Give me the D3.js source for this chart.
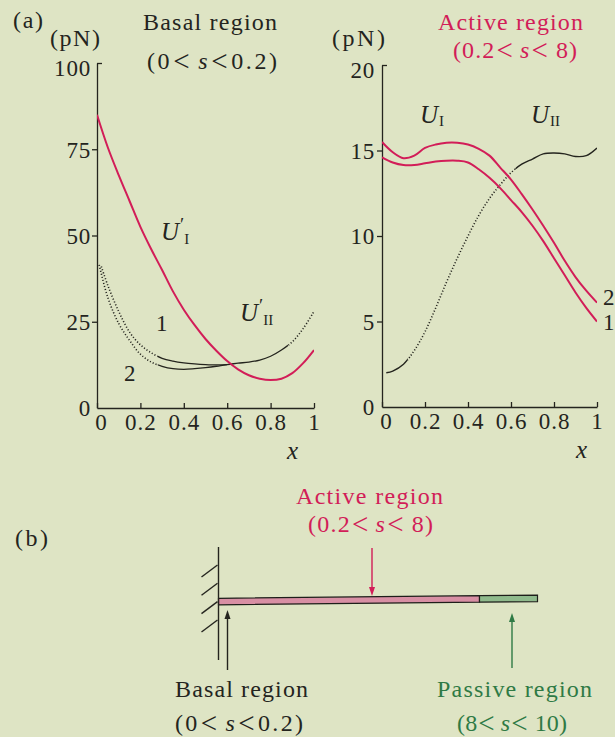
<!DOCTYPE html>
<html>
<head>
<meta charset="utf-8">
<script src="https://cdn.jsdelivr.net/npm/d3@7"></script>
<style>
  html, body { margin: 0; padding: 0; background: #dee4c4; }
  svg { display: block; }
  text { font-family: "Liberation Serif", "Times New Roman", serif; fill: #24241e; }
</style>
</head>
<body>
<svg id="chart" width="615" height="737"></svg>
<script>
// ---- data -------------------------------------------------------------
const xGrid = [0, 0.05, 0.1, 0.15, 0.2, 0.25, 0.3, 0.35, 0.4, 0.45, 0.5,
               0.55, 0.6, 0.65, 0.7, 0.75, 0.8, 0.85, 0.9, 0.95, 1];

// Basal region (0 < s < 0.2), force in pN
const basalUI = [85, 75.5, 67.5, 60, 52.5, 46, 40, 33.8, 28.5, 24, 20,
                 16.6, 13.6, 11.2, 9.5, 8.5, 8.1, 8.5, 10.1, 13, 16.8];
const basalX1 = [0.02, 0.05, 0.1, 0.15, 0.2, 0.25, 0.3, 0.35, 0.4, 0.45, 0.5,
                 0.55, 0.6, 0.65, 0.7, 0.75, 0.8, 0.85, 0.9, 0.95, 1];
const basalUII1 = [41, 35.5, 28, 22, 18.3, 16, 14.4, 13.6, 13.1, 12.8, 12.6,
                   12.5, 12.6, 13, 13.3, 13.9, 15, 16.8, 19.2, 23, 28];
const basalX2 = [0.01, 0.05, 0.1, 0.15, 0.2, 0.25, 0.3, 0.35, 0.4, 0.45, 0.5, 0.55, 0.6];
const basalUII2 = [41.5, 32, 24.5, 19.6, 15.6, 13.3, 12.1, 11.4, 11.2, 11.4, 11.7, 12.1, 12.6];

// Active region (0.2 < s < 8), force in pN
const activeUI1 = [14.6, 14.3, 14.15, 14.15, 14.25, 14.35, 14.4, 14.4, 14.3, 13.9, 13.4,
                   12.8, 12.1, 11.4, 10.6, 9.7, 8.7, 7.7, 6.7, 5.8, 5.0];
const activeUI2 = [15.5, 14.9, 14.55, 14.7, 15.15, 15.35, 15.45, 15.45, 15.35, 15.1, 14.7,
                   14.0, 13.3, 12.45, 11.55, 10.6, 9.6, 8.55, 7.6, 6.8, 6.1];
const activeX = [0.02, 0.05, 0.1, 0.15, 0.2, 0.25, 0.3, 0.35, 0.4, 0.45, 0.5,
                 0.55, 0.6, 0.65, 0.7, 0.75, 0.8, 0.85, 0.9, 0.95, 1];
const activeUII = [2.0, 2.1, 2.5, 3.3, 4.4, 5.8, 7.3, 8.7, 10.0, 11.2, 12.2,
                   13.0, 13.7, 14.2, 14.5, 14.8, 14.85, 14.8, 14.65, 14.7, 15.15];

const xTicks = [0, 0.2, 0.4, 0.6, 0.8, 1];
const xTickLabels = ["0", "0.2", "0.4", "0.6", "0.8", "1"];
const basalYTicks = [0, 25, 50, 75, 100];
const activeYTicks = [0, 5, 10, 15, 20];

// ---- drawing ----------------------------------------------------------
const RED = "#d21d58", INK = "#24241e", GREEN = "#2f7a45";
const svg = d3.select("#chart");
const defs = svg.append("defs");
let clipId = 0;

function label(x, y, parts, opts = {}) {
  const t = svg.append("text").attr("x", x).attr("y", y)
    .attr("font-size", opts.size || 24)
    .style("fill", opts.color || INK);
  if (opts.width) t.attr("textLength", opts.width).attr("lengthAdjust", "spacing");
  (Array.isArray(parts) ? parts : [parts]).forEach(p => {
    const s = t.append("tspan").text(typeof p === "string" ? p : p.t);
    if (p.italic) s.attr("font-style", "italic");
    if (p.size) s.attr("font-size", p.size);
    if (p.dx) s.attr("dx", p.dx);
    if (p.dy) s.attr("dy", p.dy);
  });
  return t;
}

// "(lo < s < hi)" with wide comparison signs
function rangeLabel(x, y, lo, hi, width, color) {
  return label(x, y, [
    "(" + lo,
    { t: "<", size: 29, dx: 1, dy: 1.5 },
    { t: "s", italic: true, dx: 6, dy: -1.5 },
    { t: "<", size: 29, dx: 1, dy: 1.5 },
    { t: hi + ")", dx: hi.length < 3 ? 7 : 1, dy: -1.5 }
  ], { width, color });
}

// U with an optional prime and a roman subscript
function uLabel(x, y, sub, prime) {
  const t = svg.append("text").attr("x", x).attr("y", y).attr("font-size", 25);
  t.append("tspan").attr("font-style", "italic").text("U");
  if (prime) {
    t.append("tspan").attr("font-size", 19).attr("dx", 1).attr("dy", -9).text("\u2032");
    t.append("tspan").attr("font-size", 15).attr("dx", 0).attr("dy", 13).text(sub);
  } else {
    t.append("tspan").attr("font-size", 15).attr("dx", 1).attr("dy", 3).text(sub);
  }
}

function panel(cfg) {
  const x = d3.scaleLinear().domain([0, 1]).range([cfg.x0, cfg.x1]);
  const y = d3.scaleLinear().domain([0, cfg.yMax]).range([cfg.y0, cfg.y1]);
  const g = svg.append("g");

  const xa = g.append("g").attr("transform", `translate(0,${cfg.y0})`)
    .call(d3.axisBottom(x).tickValues(xTicks).tickSize(-5).tickSizeOuter(0)
      .tickPadding(6).tickFormat((d, i) => xTickLabels[i]));
  xa.selectAll("text").attr("font-size", 23).style("letter-spacing", "1px")
    .attr("dx", (d, i) => i === 0 ? 4 : 0);

  const ya = g.append("g").attr("transform", `translate(${cfg.x0},0)`)
    .call(d3.axisLeft(y).tickValues(cfg.yTicks).tickSize(5).tickSizeOuter(0).tickPadding(cfg.pad));
  ya.selectAll("text").attr("font-size", 23).style("letter-spacing", "0.8px")
    .attr("dy", (d) => d === cfg.yMax ? "0.55em" : "0.34em");
  ya.selectAll(".tick line")
    .attr("x2", d => d === cfg.yMax ? 5 : (d === 0 ? 0 : -5));

  [xa, ya].forEach(a => {
    a.attr("font-family", null);
    a.selectAll("path, line").attr("stroke", INK).attr("stroke-width", 1.3);
  });
  return { g, x, y };
}

function clipRange(x, from, to) {
  const id = "clip" + (clipId++);
  defs.append("clipPath").attr("id", id).append("rect")
    .attr("x", x(from)).attr("width", x(to) - x(from)).attr("y", 0).attr("height", 737);
  return `url(#${id})`;
}

function series(p, xs, vals, opts) {
  const line = d3.line().x((d, i) => p.x(xs[i])).y(d => p.y(d))
    .curve(d3.curveCatmullRom.alpha(0.5));
  const segs = opts.segments || [{ from: 0, to: 1, dotted: false }];
  segs.forEach(s => {
    p.g.append("path").datum(vals).attr("d", line)
      .attr("fill", "none").attr("stroke", opts.color)
      .attr("stroke-width", s.dotted ? 1.6 : opts.width)
      .attr("stroke-dasharray", s.dotted ? "1.1 2" : null)
      .attr("clip-path", clipRange(p.x, s.from, s.to));
  });
}

// (a) left: basal region
const basal = panel({ x0: 97, x1: 314, y0: 408, y1: 63, yMax: 100, yTicks: basalYTicks, pad: 1 });
series(basal, basalX1, basalUII1, { color: INK, width: 1.3, segments: [
  { from: 0, to: 0.28, dotted: true }, { from: 0.28, to: 0.88, dotted: false }, { from: 0.88, to: 1, dotted: true }] });
series(basal, basalX2, basalUII2, { color: INK, width: 1.3, segments: [
  { from: 0, to: 0.28, dotted: true }, { from: 0.28, to: 0.6, dotted: false }] });
series(basal, xGrid, basalUI, { color: RED, width: 2 });

// (a) right: active region
const active = panel({ x0: 382, x1: 597, y0: 407, y1: 65, yMax: 20, yTicks: activeYTicks, pad: 2 });
series(active, activeX, activeUII, { color: INK, width: 1.4, segments: [
  { from: 0, to: 0.12, dotted: false }, { from: 0.12, to: 0.62, dotted: true }, { from: 0.62, to: 1, dotted: false }] });
series(active, xGrid, activeUI1, { color: RED, width: 2 });
series(active, xGrid, activeUI2, { color: RED, width: 2 });

// panel texts
label(13, 28, "(a)", { width: 30 });
label(50, 46, "(pN)", { width: 50 });
label(143, 30, "Basal region", { width: 134 });
rangeLabel(147, 69, "0", "0.2", 130);
label(332, 46, "(pN)", { width: 53 });
label(438, 30, "Active region", { width: 145, color: RED });
rangeLabel(453, 58, "0.2", "8", 124, RED);

uLabel(161, 240, "I", true);
uLabel(240, 321, "II", true);
uLabel(420, 123, "I", false);
uLabel(531, 123, "II", false);
label(156, 331, "1", { size: 23 });
label(124, 381, "2", { size: 23 });
label(603, 305, "2", { size: 23 });
label(603, 330, "1", { size: 23 });
label(287, 459, { t: "x", italic: true }, { size: 25 });
label(576, 458, { t: "x", italic: true }, { size: 25 });

// (b) beam diagram
label(15, 546, "(b)", { width: 33 });
label(296, 504, "Active region", { width: 147, color: RED });
rangeLabel(308, 532, "0.2", "8", 125, RED);
label(175, 697, "Basal region", { width: 133 });
rangeLabel(175, 731, "0", "0.2", 128);
label(437, 697, "Passive region", { width: 155, color: GREEN });
rangeLabel(457, 731, "8", "10", 110, GREEN);

const wallX = 218.5, beamEnd = 537.5, activeEnd = 479.5;
const beamTop = xx => 598.3 - (xx - wallX) * 3.2 / (beamEnd - wallX);
const beamH = 6.5;
function beamPart(x1, x2, fill) {
  const pts = [[x1, beamTop(x1)], [x2, beamTop(x2)], [x2, beamTop(x2) + beamH], [x1, beamTop(x1) + beamH]];
  svg.append("polygon").attr("points", pts.map(p => p.join(",")).join(" "))
    .attr("fill", fill).attr("stroke", "#1e1e1a").attr("stroke-width", 1.2);
}
beamPart(wallX, activeEnd, "#d88fa4");
beamPart(activeEnd, beamEnd, "#8fba8c");

svg.append("line").attr("x1", wallX).attr("x2", wallX).attr("y1", 547).attr("y2", 660)
  .attr("stroke", INK).attr("stroke-width", 1.4);
[0, 18.3, 36.6, 55].forEach(o => {
  svg.append("line").attr("x1", wallX - 17).attr("y1", 577 + o).attr("x2", wallX - 1).attr("y2", 565 + o)
    .attr("stroke", INK).attr("stroke-width", 1.4);
});

function arrow(x, yFrom, yTo, color) {
  const dir = yTo > yFrom ? 1 : -1;
  svg.append("line").attr("x1", x).attr("x2", x).attr("y1", yFrom).attr("y2", yTo - dir * 7)
    .attr("stroke", color).attr("stroke-width", 1.4);
  svg.append("path")
    .attr("d", `M${x},${yTo} L${x - 3},${yTo - dir * 9} L${x + 3},${yTo - dir * 9} Z`)
    .attr("fill", color);
}
arrow(372, 548, 596, RED);
arrow(227.5, 670, 610, INK);
arrow(512, 668, 613, GREEN);
</script>
</body>
</html>
